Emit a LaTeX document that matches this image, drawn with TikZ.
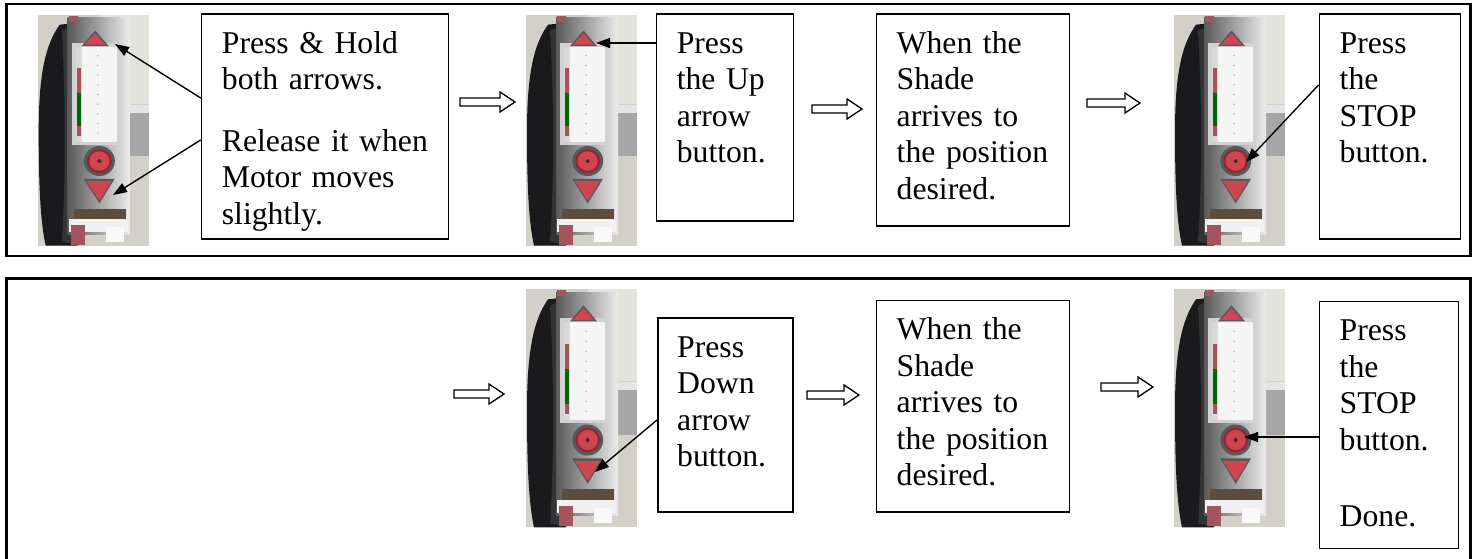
\documentclass[tikz,border=0pt]{standalone}
\usepackage{fontspec}
\setmainfont{LiberationSerif}[Extension=.ttf, UprightFont=*-Regular, BoldFont=*-Bold, ItalicFont=*-Italic, BoldItalicFont=*-BoldItalic]
\usetikzlibrary{arrows.meta,calc}

\definecolor{photobg}{HTML}{D3D0C8}
\definecolor{photolt}{HTML}{E4E2DD}
\definecolor{cyl}{HTML}{1A1A1C}
\definecolor{cylring}{HTML}{333336}
\definecolor{btnred}{HTML}{CF4550}
\definecolor{btndark}{HTML}{8E2A33}
\definecolor{bracket}{HTML}{A6A6A8}
\definecolor{stripe}{HTML}{5C4C3C}

\tikzset{
  frame/.style={draw=black, line width=2.5pt},
  txtbox/.style={draw=black, line width=1.5pt, fill=white, anchor=north west, inner sep=0pt},
  txt/.style={anchor=base west, inner sep=0pt, text width=#1, align=left, font=\fontsize{31.7}{36.5}\selectfont},
  conn/.style={line width=1.4pt, -{Triangle[length=14pt,width=10pt]}},
  blockar/.style={draw=black, line width=1.3pt, fill=white, line join=miter},
}

% outlined block arrow: #1 = left x, #2 = centre y, #3 = length
\newcommand\blockarrow[3]{%
  \draw[blockar] (#1,#2) ++(0,-4) -- ++(#3-15,0) -- ++(0,-6) -- ++(15,10)
     -- ++(-15,10) -- ++(0,-6) -- ++(-#3+15,0) -- cycle;}

\newcommand\drawphoto[3]{%
\begin{scope}[shift={(#1,#2)}, yscale=#3]
  \fill[photobg] (0,0) rectangle (111,238);
  \fill[photolt] (62,0) rectangle (111,92);
  \fill[bracket] (85,93) rectangle (111,146);
  \fill[gray!20] (85,93) rectangle (111,101);
  \fill[cyl] (40,8) -- (22,10) .. controls (8,30) and (1,60) .. (1,120)
     .. controls (1,180) and (3,215) .. (8,238) -- (40,238) -- cycle;
  \fill[cylring] (24,16) -- (34,12) -- (34,236) -- (24,234)
     .. controls (28,180) and (28,80) .. (24,16) -- cycle;
  \shade[left color=gray!70!black, right color=gray!15] (30,3) rectangle (92,226);
  \fill[gray!35] (34,29) rectangle (82,134);
  \fill[white!92!gray] (38,33) rectangle (79,131);
  \fill[gray!30] (38,33) rectangle (44,131);
  \fill[btndark!80] (39,55) rectangle (43,125);
  \fill[green!40!black] (39,80) rectangle (43,115);
  \foreach \yy in {42,52,...,122} \fill[gray!55] (60,\yy) circle (0.9);
  \fill[black!65] (44,32) -- (57.5,16) -- (71,32) -- cycle;
  \fill[btnred] (47,30.5) -- (57.5,19) -- (68,30.5) -- cycle;
  \fill[black!65] (61.7,150.7) circle (15.5);
  \fill[btndark] (61.7,150.7) circle (12.5);
  \fill[btnred] (61.7,150.7) circle (10);
  \fill[btndark!70!black] (61.7,150.7) circle (2);
  \fill[black!65] (46,169) -- (77,169) -- (61.7,194.5) -- cycle;
  \fill[btnred] (49,171.5) -- (74,171.5) -- (61.7,191.5) -- cycle;
  \fill[stripe] (36,200) rectangle (88,211);
  \fill[gray!12] (31,211) rectangle (90,224);
  \fill[btndark!80] (31,1) rectangle (40,7);
  \fill[btndark!80] (33,217) rectangle (47,237);
  \fill[gray!5] (68,219) rectangle (86,234);
\end{scope}}

\begin{document}
\begin{tikzpicture}[x=1pt, y=-1pt]
\useasboundingbox (0,0) rectangle (1478,558);

% frames
\draw[frame] (6.7,4) rectangle (1470.5,256);
\draw[frame] (6.7,560) -- (6.7,278.5) -- (1470.5,278.5) -- (1470.5,560);

% photos
\drawphoto{37.7}{15}{0.969}
\drawphoto{526}{15}{0.969}
\drawphoto{1174}{15}{0.969}
\drawphoto{526}{289.3}{1}
\drawphoto{1174}{289.3}{1}

% text boxes
\node[txtbox, minimum width=247pt, minimum height=225pt] (b1) at (200.7,13) {};
\node[txtbox, minimum width=137pt, minimum height=207pt] (b2) at (655.6,13) {};
\node[txtbox, minimum width=193pt, minimum height=212pt] (b3) at (875.5,13) {};
\node[txtbox, minimum width=141pt, minimum height=225pt] (b4) at (1318.5,13) {};
\node[txtbox, minimum width=135pt, minimum height=194pt] (b5) at (657,317) {};
\node[txtbox, minimum width=193pt, minimum height=211.5pt] (b6) at (875.5,299.5) {};
\node[txtbox, minimum width=139pt, minimum height=247pt] (b7) at (1318.5,300.5) {};

\node[txt=220pt] (t1) at ($(b1.north west)+(21,40)$) {Press \& Hold\\both arrows.\\[25pt]Release it when\\Motor moves\\slightly.};
\node[txt=110pt] (t2) at ($(b2.north west)+(21,40)$) {Press\\the Up\\arrow\\button.};
\node[txt=165pt] (t3) at ($(b3.north west)+(21,40)$) {When the\\Shade\\arrives to\\the position\\desired.};
\node[txt=115pt] (t4) at ($(b4.north west)+(21,40)$) {Press\\the\\STOP\\button.};
\node[txt=110pt] (t5) at ($(b5.north west)+(20,40)$) {Press\\Down\\arrow\\button.};
\node[txt=165pt] (t6) at ($(b6.north west)+(21,40)$) {When the\\Shade\\arrives to\\the position\\desired.};
\node[txt=115pt] (t7) at ($(b7.north west)+(21,40)$) {Press\\the\\STOP\\button.\\[40pt]Done.};

% block arrows
\blockarrow{460}{102}{55}
\blockarrow{812}{109}{50}
\blockarrow{1087}{103}{53}
\blockarrow{454}{394}{50}
\blockarrow{807}{395}{52}
\blockarrow{1101}{387}{52}

% connector targets on the photos
\coordinate (tA1) at (115,44);
\coordinate (tA2) at (113,195);
\coordinate (tB) at (596,43);
\coordinate (tC) at (1246,162);
\coordinate (tD) at (595,472);
\coordinate (tE) at (1244,437);

\draw[conn] ([yshift=-85pt]b1.north west) -- (tA1);
\draw[conn] ([yshift=-127pt]b1.north west) -- (tA2);
\draw[conn] ([yshift=-30pt]b2.north west) -- (tB);
\draw[conn] ([yshift=-72pt]b4.north west) -- (tC);
\draw[conn] ([yshift=-103pt]b5.north west) -- (tD);
\draw[conn] ([yshift=-136.5pt]b7.north west) -- (tE);
\end{tikzpicture}
\end{document}
